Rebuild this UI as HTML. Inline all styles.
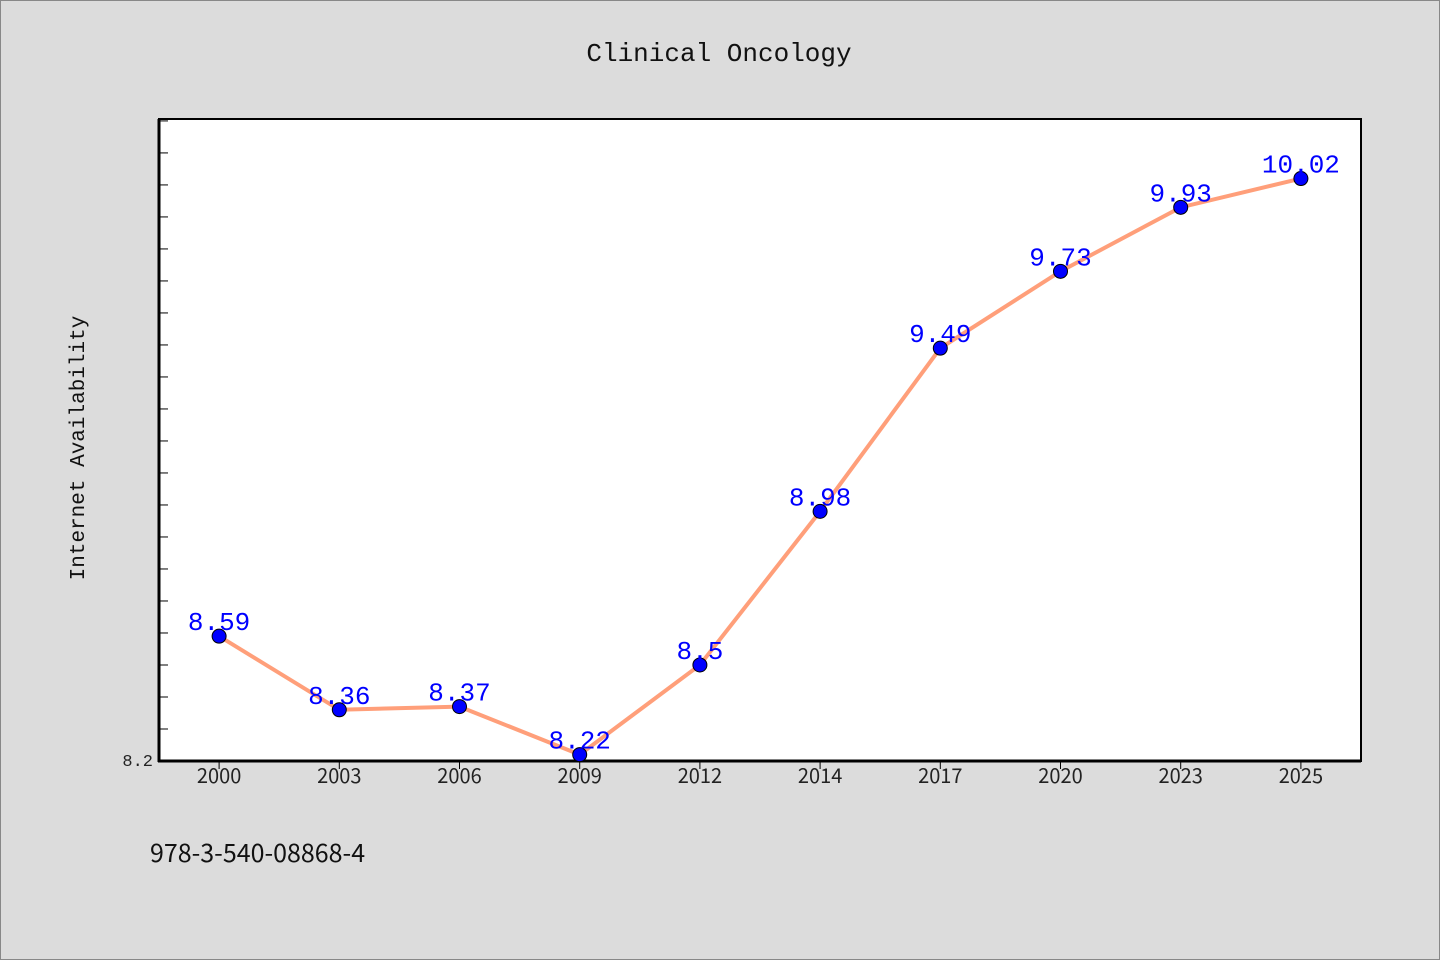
<!DOCTYPE html>
<html><head><meta charset="utf-8"><style>
body{margin:0;background:#dcdcdc;}
svg{display:block;}
</style></head><body>
<svg width="1440" height="960">
<rect x="0.5" y="0.5" width="1439" height="959" fill="#dcdcdc" stroke="#888"/>
<text x="719" y="61" text-anchor="middle" font-family="'WenQuanYi Zen Hei','Liberation Mono',monospace" font-size="26" fill="#111">Clinical Oncology</text>
<rect x="159" y="119" width="1202" height="642" fill="#fff" stroke="#000" stroke-width="2"/>
<g id="yticks"></g><g id="xticks"></g>
<line x1="159" y1="119" x2="159" y2="762" stroke="#000" stroke-width="3"/>
<line x1="158" y1="761" x2="1361" y2="761" stroke="#000" stroke-width="3"/>
<text x="153" y="766" text-anchor="end" font-family="'WenQuanYi Zen Hei','Liberation Mono',monospace" font-size="17" fill="#222">8.2</text>
<text transform="translate(84,448) rotate(-90)" text-anchor="middle" font-family="'WenQuanYi Zen Hei','Liberation Mono',monospace" font-size="21" fill="#111">Internet Availability</text>
<g id="series"></g>
<text x="150" y="862" font-family="'Noto Sans CJK JP','Liberation Sans',sans-serif" font-size="25" fill="#111">978-3-540-08868-4</text>
</svg>
<script>
const categories=["2000","2003","2006","2009","2012","2014","2017","2020","2023","2025"];
const values=[8.59,8.36,8.37,8.22,8.5,8.98,9.49,9.73,9.93,10.02];
const valueLabels=["8.59","8.36","8.37","8.22","8.5","8.98","9.49","9.73","9.93","10.02"];
const yMin=8.2, yMax=10.206;
const NS="http://www.w3.org/2000/svg";
const L=159,R=1361,T=119,B=761;
function x(i){return L+(i+0.5)*(R-L)/categories.length;}
function y(v){return B-(v-yMin)/(yMax-yMin)*(B-T);}
const yt=document.getElementById('yticks');
for(let k=1;;k++){const v=yMin+k*0.1;if(v>yMax)break;
 const l=document.createElementNS(NS,'line');
 l.setAttribute('x1',160);l.setAttribute('x2',168);l.setAttribute('y1',y(v));l.setAttribute('y2',y(v));l.setAttribute('stroke','#000');
 
 
 yt.appendChild(l);}
const xt=document.getElementById('xticks');
categories.forEach((c,i)=>{
 const l=document.createElementNS(NS,'line');
 l.setAttribute('x1',x(i));l.setAttribute('x2',x(i));l.setAttribute('y1',762);l.setAttribute('y2',769);l.setAttribute('stroke','#000');
 
 
 xt.appendChild(l);
 const t=document.createElementNS(NS,'text');
 t.setAttribute('x',x(i));t.setAttribute('y',783);t.setAttribute('text-anchor','middle');
 t.setAttribute('font-family',"'Noto Sans CJK JP','Liberation Sans',sans-serif");t.setAttribute('font-size','20');t.setAttribute('fill','#222');
 t.textContent=c;
 
 
 xt.appendChild(t);
});
const s=document.getElementById('series');
const p=document.createElementNS(NS,'polyline');
p.setAttribute('points',values.map((v,i)=>x(i)+','+y(v)).join(' '));
p.setAttribute('fill','none');p.setAttribute('stroke','#ff9f7a');p.setAttribute('stroke-width','4');


s.appendChild(p);
values.forEach((v,i)=>{
 const c=document.createElementNS(NS,'circle');
 c.setAttribute('cx',x(i));c.setAttribute('cy',y(v));c.setAttribute('r',7);c.setAttribute('fill','#0000ff');c.setAttribute('stroke','#000');
 
 
 s.appendChild(c);
 const t=document.createElementNS(NS,'text');
 t.setAttribute('x',x(i));t.setAttribute('y',y(v)-6);t.setAttribute('text-anchor','middle');
 t.setAttribute('font-family',"'WenQuanYi Zen Hei','Liberation Mono',monospace");t.setAttribute('font-size','26');t.setAttribute('fill','#0000ff');
 t.textContent=valueLabels[i];
 
 
 s.appendChild(t);
});
</script>
</body></html>
